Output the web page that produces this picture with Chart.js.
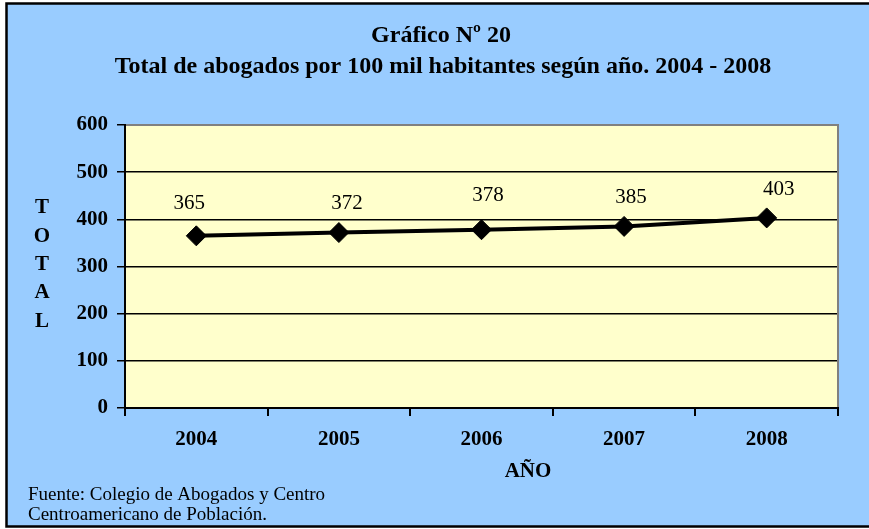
<!DOCTYPE html>
<html>
<head>
<meta charset="utf-8">
<script src="https://cdn.jsdelivr.net/npm/chart.js@4.4.0/dist/chart.umd.min.js"></script>
<style>
  body { margin: 0; background: #fff; }
  #wrap { width: 869px; height: 529px; }
</style>
</head>
<body>
<div id="wrap"><canvas id="myChart" width="869" height="529"></canvas></div>
<script>
const years = ["2004", "2005", "2006", "2007", "2008"];
const totals = [365, 372, 378, 385, 403];
const titleLines = ["Gráfico Nº 20", "Total de abogados por 100 mil habitantes según año. 2004 - 2008"];
const yTitle = "TOTAL";
const xTitle = "AÑO";
const sourceLines = ["Fuente: Colegio de Abogados y Centro", "Centroamericano de Población."];

const serif = "'Liberation Serif', 'Times New Roman', serif";

// hand placed value labels in the original, offset from each point
const labelNudge = [[-7, -27], [8, -23.5], [6.5, -29], [7, -23.5], [12, -22.5]];

const decor = {
  id: "decor",
  beforeDraw(chart) {
    const ctx = chart.ctx;
    const a = chart.chartArea;
    ctx.save();
    ctx.fillStyle = "#ffffff";
    ctx.fillRect(0, 0, chart.width, chart.height);
    ctx.fillStyle = "#99ccff";
    ctx.fillRect(6, 3, chart.width, 524);
    ctx.strokeStyle = "#000";
    ctx.lineWidth = 2.5;
    ctx.strokeRect(6.5, 3.5, chart.width + 10, 523);
    ctx.fillStyle = "#ffffcc";
    ctx.fillRect(a.left, a.top, a.right - a.left, a.bottom - a.top);
    ctx.restore();
  },
  afterDatasetsDraw(chart) {
    const ctx = chart.ctx;
    const meta = chart.getDatasetMeta(0);
    ctx.save();
    ctx.font = "21px " + serif;
    ctx.fillStyle = "#000";
    ctx.textAlign = "center";
    ctx.textBaseline = "alphabetic";
    meta.data.forEach((pt, i) => {
      const n = labelNudge[i] || [0, -24];
      ctx.fillText(String(totals[i]), pt.x + n[0], pt.y + n[1]);
    });
    ctx.restore();
  },
  afterDraw(chart) {
    const ctx = chart.ctx;
    const a = chart.chartArea;
    ctx.save();
    // plot frame (top and right) in gray
    ctx.strokeStyle = "#808080";
    ctx.lineWidth = 2;
    ctx.beginPath();
    ctx.moveTo(a.left + 1, a.top);
    ctx.lineTo(a.right, a.top);
    ctx.lineTo(a.right, a.bottom - 1);
    ctx.stroke();

    ctx.fillStyle = "#000";
    ctx.textAlign = "center";
    ctx.textBaseline = "alphabetic";
    ctx.font = "bold 24px " + serif;
    ctx.fillText(titleLines[0], 441, 42);
    ctx.fillText(titleLines[1], 443, 73);

    ctx.font = "bold 21px " + serif;
    ctx.textBaseline = "middle";
    yTitle.split("").forEach((ch, i) => {
      ctx.fillText(ch, 42, 208 + i * 28.3);
    });
    ctx.fillText(xTitle, 528, 472);

    ctx.font = "19px " + serif;
    ctx.textAlign = "left";
    ctx.textBaseline = "alphabetic";
    ctx.fillText(sourceLines[0], 28, 500);
    ctx.fillText(sourceLines[1], 28, 520);
    ctx.restore();
  }
};

const data = {
  labels: years,
  datasets: [
    {
      label: "Total",
      data: totals,
      borderColor: "#000",
      backgroundColor: "#000",
      borderWidth: 4,
      tension: 0,
      pointStyle: "rectRot",
      pointRadius: 10,
      pointBackgroundColor: "#000",
      pointBorderColor: "#000",
      pointBorderWidth: 1,
    },
  ],
};

const config = {
  type: "line",
  data: data,
  options: {
    responsive: false,
    animation: false,
    layout: { padding: { left: 0, right: 31, top: 125, bottom: 0 } },
    plugins: {
      legend: { display: false },
      title: { display: false },
      tooltip: { enabled: false },
    },
    scales: {
      x: {
        offset: true,
        afterFit: (s) => { s.height = 121; },
        grid: { offset: true, drawOnChartArea: false, color: "#000", lineWidth: 2, tickLength: 8 },
        border: { color: "#000", width: 2 },
        ticks: { color: "#000", padding: 11, font: { family: serif, size: 21, weight: "bold" } },
      },
      y: {
        min: 0,
        max: 600,
        afterFit: (s) => { s.width = 125; },
        grid: { color: "#000", lineWidth: 1.5, tickLength: 8 },
        border: { color: "#000", width: 2 },
        ticks: { stepSize: 100, color: "#000", padding: 9, font: { family: serif, size: 21, weight: "bold" } },
      },
    },
  },
  plugins: [decor],
};

const myChart = new Chart(document.getElementById("myChart"), config);
</script>
</body>
</html>
